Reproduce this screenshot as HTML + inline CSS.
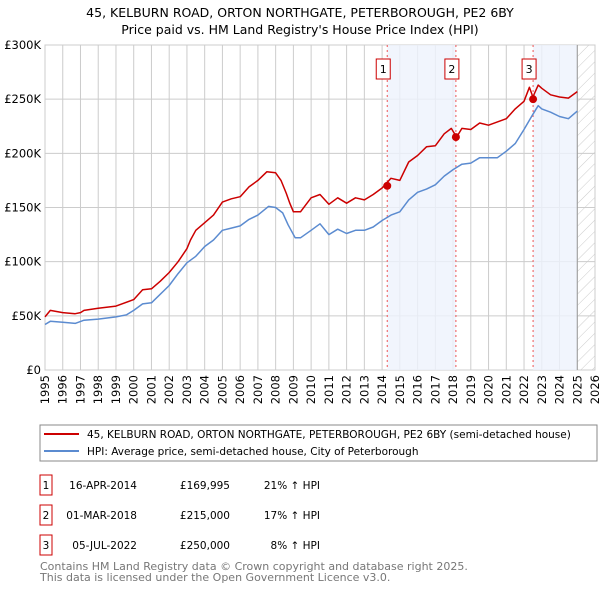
<!DOCTYPE html>
<html><head><meta charset="utf-8"><style>
body{margin:0;background:#fff;font-family:"Liberation Sans","DejaVu Sans",sans-serif;}
svg text{font-family:"DejaVu Sans","Liberation Sans",sans-serif;}
</style></head><body>
<svg id="chart" width="600" height="590" viewBox="0 0 600 590" xmlns="http://www.w3.org/2000/svg">
<text x="300" y="17" text-anchor="middle" font-size="12.5" fill="#000">45, KELBURN ROAD, ORTON NORTHGATE, PETERBOROUGH, PE2 6BY</text>
<text x="300" y="34" text-anchor="middle" font-size="12.5" fill="#000">Price paid vs. HM Land Registry's House Price Index (HPI)</text>
<g id="grid"></g><g id="shade"></g><g id="series"></g><g id="marks"></g><g id="axes"></g>
<rect x="40" y="425" width="557" height="36" fill="#fff" stroke="#888"/>
<line x1="44" y1="434" x2="79" y2="434" stroke="#cc0000" stroke-width="2"/>
<text x="87" y="438" font-size="10.5">45, KELBURN ROAD, ORTON NORTHGATE, PETERBOROUGH, PE2 6BY (semi-detached house)</text>
<line x1="44" y1="451" x2="79" y2="451" stroke="#5b8bd0" stroke-width="2"/>
<text x="87" y="455" font-size="10.5">HPI: Average price, semi-detached house, City of Peterborough</text>
<g id="table" font-size="10.5"></g>
<text x="40" y="570" font-size="11" fill="#777">Contains HM Land Registry data © Crown copyright and database right 2025.</text>
<text x="40" y="581" font-size="11" fill="#777">This data is licensed under the Open Government Licence v3.0.</text>
</svg>
<script>
const hpiYears=[1995,1995.3,1996,1996.7,1997.2,1998,1999,1999.6,2000,2000.5,2001,2002,2002.5,2003,2003.5,2004,2004.5,2005,2005.5,2006,2006.5,2007,2007.6,2008,2008.4,2008.7,2009.1,2009.4,2010,2010.5,2011,2011.5,2012,2012.5,2013,2013.5,2014,2014.5,2015,2015.5,2016,2016.5,2017,2017.5,2018,2018.5,2019,2019.5,2020,2020.5,2021,2021.5,2022,2022.5,2022.8,2023,2023.5,2024,2024.5,2025];
const hpiValues=[42,45,44,43,46,47,49,51,55,61,62,78,89,99,105,114,120,129,131,133,139,143,151,150,145,134,122,122,129,135,125,130,126,129,129,132,138,143,146,157,164,167,171,179,185,190,191,196,196,196,202,209,222,236,244,241,238,234,232,239];
const propYears=[1995,1995.3,1996,1996.7,1997,1997.2,1998,1999,2000,2000.5,2001,2001.5,2002,2002.5,2003,2003.2,2003.5,2004,2004.5,2005,2005.5,2006,2006.5,2007,2007.5,2008,2008.3,2008.6,2008.8,2009,2009.4,2010,2010.5,2011,2011.5,2012,2012.5,2013,2013.5,2014,2014.5,2015,2015.5,2016,2016.5,2017,2017.5,2017.9,2018.2,2018.5,2019,2019.5,2020,2020.5,2021,2021.5,2022,2022.3,2022.5,2022.8,2023,2023.5,2024,2024.5,2025];
const propValues=[49,55,53,52,53,55,57,59,65,74,75,82,90,100,112,120,129,136,143,155,158,160,169,175,183,182,175,163,154,146,146,159,162,153,159,154,159,157,162,168,177,175,192,198,206,207,218,223,215,223,222,228,226,229,232,241,248,261,252,263,260,254,252,251,257];
const saleLabels=["1","2","3"];
const saleYears=[2014.29,2018.16,2022.51];
const salePrices=[169995,215000,250000];
const saleDates=["16-APR-2014","01-MAR-2018","05-JUL-2022"];
const salePriceText=["£169,995","£215,000","£250,000"];
const salePct=["21% ↑ HPI","17% ↑ HPI","8% ↑ HPI"];
const yTicks=[0,50,100,150,200,250,300];
const yTickLabels=["£0","£50K","£100K","£150K","£200K","£250K","£300K"];
const xTicks=[1995,1996,1997,1998,1999,2000,2001,2002,2003,2004,2005,2006,2007,2008,2009,2010,2011,2012,2013,2014,2015,2016,2017,2018,2019,2020,2021,2022,2023,2024,2025,2026];
const dataEnd=2025.0;

const NS="http://www.w3.org/2000/svg";
const X0=45,X1=595,Y0=370,Y1=45;
const xs=y=>X0+(y-1995)/(2026-1995)*(X1-X0);
const ys=v=>Y0-v/300*(Y0-Y1);
function mk(tag,attrs,parent){const e=document.createElementNS(NS,tag);for(const k in attrs)e.setAttribute(k,attrs[k]);parent.appendChild(e);return e;}
const grid=document.getElementById('grid'),shade=document.getElementById('shade'),series=document.getElementById('series'),marks=document.getElementById('marks'),axes=document.getElementById('axes'),table=document.getElementById('table');

for(let i=0;i<saleYears.length;i++){
  const a=saleYears[i],b=i+1<saleYears.length?saleYears[i+1]:dataEnd;
  if(i===1)continue;
  const r=mk('rect',{x:xs(a),y:Y1,width:xs(b)-xs(a),height:Y0-Y1,fill:'#eef3fc',opacity:0.8},shade);
  
  
}
const defs=mk('defs',{},shade);
const pat=mk('pattern',{id:'hatch',patternUnits:'userSpaceOnUse',width:8,height:8,patternTransform:'rotate(45)'},defs);
mk('line',{x1:0,y1:0,x2:0,y2:8,stroke:'#ccc','stroke-width':1},pat);
const hr=mk('rect',{x:xs(dataEnd),y:Y1,width:X1-xs(dataEnd),height:Y0-Y1,fill:'url(#hatch)'},shade);


mk('line',{x1:xs(dataEnd),y1:Y1,x2:xs(dataEnd),y2:Y0,stroke:'#999','stroke-width':1},shade);

yTicks.forEach((t,i)=>{
  mk('line',{x1:X0,x2:X1,y1:ys(t),y2:ys(t),stroke:'#ccc'},grid);
  const tx=mk('text',{x:X0-4,y:ys(t)+4,'text-anchor':'end','font-size':11.5},axes);
  tx.textContent=yTickLabels[i];
  
  
});
xTicks.forEach(t=>{
  mk('line',{x1:xs(t),x2:xs(t),y1:Y1,y2:Y0,stroke:'#ccc'},grid);
  const tx=mk('text',{x:0,y:0,'text-anchor':'end','font-size':11.5,transform:`translate(${xs(t)+4},${Y0+5}) rotate(-90)`},axes);
  tx.textContent=t;
  
  
});
mk('rect',{x:X0,y:Y1,width:X1-X0,height:Y0-Y1,fill:'none',stroke:'#ccc'},grid);

saleYears.forEach((y,i)=>{
  mk('line',{x1:xs(y),x2:xs(y),y1:Y1,y2:Y0,stroke:'#e55','stroke-dasharray':'2,3','stroke-width':1},shade);
  const g=mk('g',{},marks);
  
  
  mk('rect',{x:xs(y)-11,y:59,width:14,height:20,fill:'#fff',stroke:'#cc0000'},g);
  const t=mk('text',{x:xs(y)-4,y:73,'text-anchor':'middle','font-size':11},g);
  t.textContent=saleLabels[i];
});

function path(xa,va,color,name){
  let d='';xa.forEach((x,i)=>{d+=(i?'L':'M')+xs(x).toFixed(1)+','+ys(va[i]).toFixed(1);});
  const p=mk('path',{d,fill:'none',stroke:color,'stroke-width':1.5,'stroke-linejoin':'round'},series);
  
  
}
path(hpiYears,hpiValues,'#5b8bd0','hpi-line');
path(propYears,propValues,'#cc0000','property-price-line');
saleYears.forEach((y,i)=>{
  const c=mk('circle',{cx:xs(y),cy:ys(salePrices[i]/1000),r:4,fill:'#cc0000'},marks);
  
  
});

saleLabels.forEach((l,i)=>{
  const cy=485+i*30;
  const g=mk('g',{},table);
  
  
  mk('rect',{x:40,y:cy-10,width:12,height:20,fill:'#fff',stroke:'#cc0000'},g);
  const a=mk('text',{x:46,y:cy+4,'text-anchor':'middle'},g);a.textContent=l;
  const b=mk('text',{x:137,y:cy+4,'text-anchor':'end'},g);b.textContent=saleDates[i];
  const c=mk('text',{x:230,y:cy+4,'text-anchor':'end'},g);c.textContent=salePriceText[i];
  const d=mk('text',{x:320,y:cy+4,'text-anchor':'end'},g);d.textContent=salePct[i];
});
</script>
</body></html>
